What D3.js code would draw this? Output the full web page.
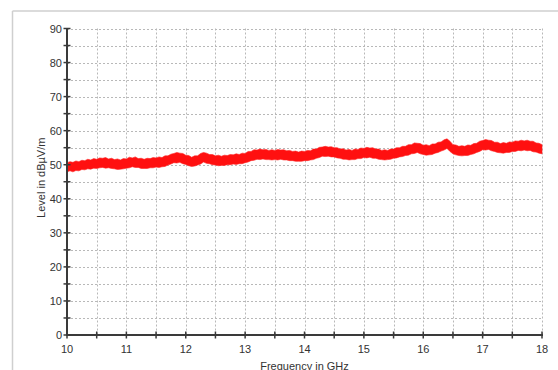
<!DOCTYPE html>
<html>
<head>
<meta charset="utf-8">
<script src="https://cdn.jsdelivr.net/npm/d3@7"></script>
<style>
  html, body { margin: 0; padding: 0; background: #fff; }
  svg { display: block; font-family: "Liberation Sans", Arial, sans-serif; }
</style>
</head>
<body>
<svg id="chart" width="558" height="370"></svg>
<script>
// Sweep: 10 – 18 GHz, one envelope sample every 0.05 GHz
const sweepStart = 10;
const sweepStep = 0.05;

// Upper edge of the measured trace (dBµV/m)
const levelHigh = [
  50.6,50.9,50.7,51.1,50.9,51.3,51.2,51.6,51.4,51.8,51.6,52.0,51.9,52.1,51.7,51.9,51.5,51.7,51.4,51.8,
  51.7,52.2,52.0,52.3,51.8,51.9,51.6,51.9,51.8,52.1,52.0,52.3,52.1,52.6,52.6,53.1,53.3,53.6,53.4,53.3,
  52.8,52.7,52.2,52.6,52.6,53.3,53.6,53.4,53.0,53.0,52.6,52.8,52.5,52.8,52.7,53.0,52.9,53.2,53.0,53.4,
  53.3,53.9,53.9,54.4,54.3,54.6,54.4,54.5,54.2,54.4,54.2,54.5,54.3,54.4,54.1,54.2,53.9,54.0,53.7,54.0,
  53.9,54.2,54.1,54.6,54.6,55.1,55.2,55.4,55.2,55.3,55.0,55.0,54.6,54.7,54.3,54.5,54.2,54.6,54.5,54.9,
  54.8,55.1,54.9,55.0,54.6,54.6,54.2,54.4,54.2,54.6,54.6,55.0,55.0,55.4,55.4,55.9,55.9,56.4,56.3,56.2,
  55.7,55.9,55.6,56.1,56.1,56.6,56.7,57.3,57.6,56.9,55.9,55.8,55.4,55.6,55.4,55.8,55.7,56.2,56.3,56.9,
  57.1,57.4,57.2,57.1,56.6,56.6,56.2,56.5,56.3,56.7,56.6,57.0,56.9,57.2,57.0,57.2,56.9,56.9,56.4,56.3,
  55.9
];

// Lower edge of the measured trace (dBµV/m)
const levelLow = [
  47.9,48.2,47.9,48.3,48.2,48.6,48.5,48.8,48.7,49.0,48.9,49.1,49.2,49.0,49.1,48.9,48.8,48.6,48.7,48.8,
  49.0,49.1,49.4,49.2,49.2,48.9,48.9,48.9,49.1,49.1,49.3,49.2,49.4,49.5,49.9,50.2,50.6,50.5,50.7,50.3,
  50.1,49.7,49.5,49.6,49.9,50.2,50.8,50.4,50.3,50.0,49.9,49.7,49.8,49.8,50.0,50.0,50.2,50.1,50.3,50.3,
  50.6,50.8,51.2,51.3,51.6,51.5,51.7,51.5,51.5,51.4,51.5,51.4,51.6,51.4,51.4,51.2,51.2,51.0,51.0,51.0,
  51.2,51.2,51.4,51.5,51.9,52.1,52.5,52.4,52.5,52.3,52.3,52.0,51.9,51.6,51.6,51.4,51.5,51.5,51.8,51.8,
  52.1,52.0,52.2,51.9,51.9,51.6,51.5,51.4,51.5,51.6,51.9,52.0,52.3,52.4,52.7,52.8,53.2,53.3,53.6,53.2,
  53.0,52.8,52.9,53.0,53.4,53.6,54.0,54.3,54.8,53.9,53.2,52.9,52.7,52.6,52.7,52.7,53.0,53.2,53.6,53.9,
  54.4,54.3,54.5,54.1,53.9,53.6,53.5,53.4,53.6,53.6,53.9,53.9,54.2,54.1,54.3,54.1,54.2,53.8,53.7,53.4,
  53.2
];

// Axis ticks
const freqTicks = [10, 11, 12, 13, 14, 15, 16, 17, 18];
const freqMinorTicks = [10.5, 11.5, 12.5, 13.5, 14.5, 15.5, 16.5, 17.5];
const levelTicks = [0, 10, 20, 30, 40, 50, 60, 70, 80, 90];
const levelMinorTicks = [5, 15, 25, 35, 45, 55, 65, 75, 85];

const svg = d3.select("#chart");
const W = 558, H = 370;

// Plot frame
const plot = { left: 67, right: 542, top: 28.5, bottom: 335 };

const x = d3.scaleLinear().domain([10, 18]).range([plot.left, plot.right]);
const y = d3.scaleLinear().domain([0, 90]).range([plot.bottom, plot.top]);

// Outer panel edge (top and left)
svg.append("line")
  .attr("x1", 12.5).attr("x2", W).attr("y1", 11).attr("y2", 11)
  .attr("stroke", "#cfcfcf").attr("stroke-width", 1.5);
svg.append("line")
  .attr("x1", 12.5).attr("x2", 12.5).attr("y1", 11).attr("y2", H)
  .attr("stroke", "#cfcfcf").attr("stroke-width", 1.5);

// Dotted grid
const grid = svg.append("g")
  .attr("stroke", "#b8b8b8")
  .attr("stroke-width", 1)
  .attr("stroke-dasharray", "2,2");

const gridLevels = levelTicks.concat(levelMinorTicks).filter(v => v > 0);
grid.selectAll("line.h").data(gridLevels).join("line")
  .attr("class", "h")
  .attr("x1", plot.left).attr("x2", x(18))
  .attr("y1", d => Math.round(y(d)) + 0.5)
  .attr("y2", d => Math.round(y(d)) + 0.5);

const gridFreqs = freqTicks.concat(freqMinorTicks).filter(v => v > 10);
grid.selectAll("line.v").data(gridFreqs).join("line")
  .attr("class", "v")
  .attr("y1", y(90)).attr("y2", plot.bottom)
  .attr("x1", d => Math.round(x(d)) + 0.5)
  .attr("x2", d => Math.round(x(d)) + 0.5);

// Measured trace as a filled envelope
const samples = levelHigh.map((hi, i) => ({
  f: sweepStart + i * sweepStep,
  hi: hi,
  lo: levelLow[i]
}));

const band = d3.area()
  .x(d => x(d.f))
  .y0(d => y(d.lo))
  .y1(d => y(d.hi))
  .curve(d3.curveLinear);

svg.append("path")
  .datum(samples)
  .attr("d", band)
  .attr("fill", "#ff1010")
  .attr("stroke", "#ff2020")
  .attr("stroke-width", 0.6);

// Axes
const axisColor = "#3a3a3a";
const tickHalf = 3.5;

const xAxis = svg.append("g").attr("class", "x-axis");
xAxis.append("line")
  .attr("x1", plot.left - 1).attr("x2", x(18) + 1)
  .attr("y1", plot.bottom).attr("y2", plot.bottom)
  .attr("stroke", axisColor).attr("stroke-width", 2);
xAxis.selectAll("line.t").data(freqTicks.concat(freqMinorTicks)).join("line")
  .attr("class", "t")
  .attr("x1", d => x(d)).attr("x2", d => x(d))
  .attr("y1", plot.bottom - tickHalf).attr("y2", plot.bottom + tickHalf)
  .attr("stroke", axisColor).attr("stroke-width", 1.5);
xAxis.selectAll("text").data(freqTicks).join("text")
  .attr("x", d => x(d))
  .attr("y", 353)
  .attr("text-anchor", "middle")
  .attr("font-size", 11)
  .attr("fill", "#333")
  .text(d => d);

const yAxis = svg.append("g").attr("class", "y-axis");
yAxis.append("line")
  .attr("x1", plot.left).attr("x2", plot.left)
  .attr("y1", y(90)).attr("y2", plot.bottom + 1)
  .attr("stroke", axisColor).attr("stroke-width", 2);
yAxis.selectAll("line.t").data(levelTicks.concat(levelMinorTicks)).join("line")
  .attr("class", "t")
  .attr("x1", plot.left - tickHalf).attr("x2", plot.left + tickHalf)
  .attr("y1", d => y(d)).attr("y2", d => y(d))
  .attr("stroke", axisColor).attr("stroke-width", 1.5);
yAxis.selectAll("text").data(levelTicks).join("text")
  .attr("x", 62)
  .attr("y", d => y(d) + 4)
  .attr("text-anchor", "end")
  .attr("font-size", 11)
  .attr("fill", "#333")
  .text(d => d);

// Axis titles
svg.append("text")
  .attr("x", (plot.left + x(18)) / 2)
  .attr("y", 369.5)
  .attr("text-anchor", "middle")
  .attr("font-size", 11)
  .attr("fill", "#333")
  .text("Frequency in GHz");

svg.append("text")
  .attr("transform", `translate(44.5, ${(plot.top + plot.bottom) / 2 - 4}) rotate(-90)`)
  .attr("text-anchor", "middle")
  .attr("font-size", 11)
  .attr("fill", "#333")
  .text("Level in dBµV/m");
</script>
</body>
</html>
